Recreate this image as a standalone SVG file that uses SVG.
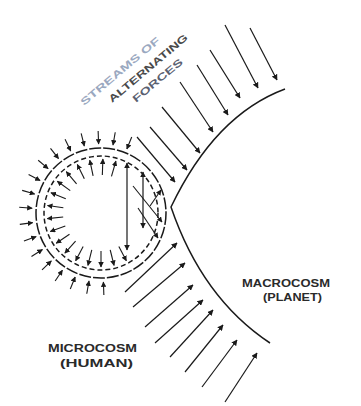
<svg xmlns="http://www.w3.org/2000/svg" width="361" height="406" viewBox="0 0 361 406">
<defs>
<marker id="ah" viewBox="0 0 10 10" refX="9" refY="5" markerWidth="5" markerHeight="5" orient="auto-start-reverse">
<path d="M0,0 L10,5 L0,10 z" fill="#1a1a1a"/>
</marker>
</defs>
<style>
.ar{stroke:#1a1a1a;stroke-width:1.2;fill:none;marker-end:url(#ah)}
.ard{stroke:#1a1a1a;stroke-width:1.2;fill:none;marker-end:url(#ah);marker-start:url(#ah)}
.sm{stroke:#1a1a1a;stroke-width:1.1;fill:none;marker-end:url(#ah)}
.ring{stroke:#1a1a1a;stroke-width:1.5;fill:none}
.lbl{font-family:"Liberation Sans",Arial,sans-serif;font-size:10px;font-weight:bold;fill:#2a2a2a}
.rot{font-family:"Liberation Sans",Arial,sans-serif;font-size:10px;font-weight:bold}
</style>
<rect width="361" height="406" fill="#ffffff"/>

<g id="macrocosm">
<path class="ring" d="M285,89 Q215,115 171,207 Q202,298 270,343"/>
<text class="lbl" x="242" y="287" textLength="88" lengthAdjust="spacingAndGlyphs">MACROCOSM</text>
<text class="lbl" x="263" y="301" textLength="59" lengthAdjust="spacingAndGlyphs">(PLANET)</text>
</g>

<g id="microcosm">
<circle class="ring" cx="101" cy="213" r="65" stroke-dasharray="12 2"/>
<circle class="ring" cx="101" cy="213" r="57" stroke-width="1.1" stroke-dasharray="5 3"/>
<g transform="translate(101,213)">
<line class="sm" x1="82" y1="0" x2="69" y2="0" transform="rotate(88)"/>
<line class="sm" x1="82" y1="0" x2="69" y2="0" transform="rotate(100)"/>
<line class="sm" x1="82" y1="0" x2="69" y2="0" transform="rotate(112)"/>
<line class="sm" x1="82" y1="0" x2="69" y2="0" transform="rotate(124)"/>
<line class="sm" x1="82" y1="0" x2="69" y2="0" transform="rotate(136)"/>
<line class="sm" x1="82" y1="0" x2="69" y2="0" transform="rotate(148)"/>
<line class="sm" x1="82" y1="0" x2="69" y2="0" transform="rotate(160)"/>
<line class="sm" x1="82" y1="0" x2="69" y2="0" transform="rotate(172)"/>
<line class="sm" x1="82" y1="0" x2="69" y2="0" transform="rotate(184)"/>
<line class="sm" x1="82" y1="0" x2="69" y2="0" transform="rotate(196)"/>
<line class="sm" x1="82" y1="0" x2="69" y2="0" transform="rotate(208)"/>
<line class="sm" x1="82" y1="0" x2="69" y2="0" transform="rotate(220)"/>
<line class="sm" x1="82" y1="0" x2="69" y2="0" transform="rotate(232)"/>
<line class="sm" x1="82" y1="0" x2="69" y2="0" transform="rotate(244)"/>
<line class="sm" x1="82" y1="0" x2="69" y2="0" transform="rotate(256)"/>
<line class="sm" x1="82" y1="0" x2="69" y2="0" transform="rotate(268)"/>
<line class="sm" x1="82" y1="0" x2="69" y2="0" transform="rotate(280)"/>
<line class="sm" x1="82" y1="0" x2="69" y2="0" transform="rotate(292)"/>
<line class="sm" x1="38" y1="0" x2="54" y2="0" transform="rotate(62)"/>
<line class="sm" x1="38" y1="0" x2="54" y2="0" transform="rotate(76)"/>
<line class="sm" x1="38" y1="0" x2="54" y2="0" transform="rotate(90)"/>
<line class="sm" x1="38" y1="0" x2="54" y2="0" transform="rotate(104)"/>
<line class="sm" x1="38" y1="0" x2="54" y2="0" transform="rotate(118)"/>
<line class="sm" x1="38" y1="0" x2="54" y2="0" transform="rotate(132)"/>
<line class="sm" x1="38" y1="0" x2="54" y2="0" transform="rotate(146)"/>
<line class="sm" x1="38" y1="0" x2="54" y2="0" transform="rotate(160)"/>
<line class="sm" x1="38" y1="0" x2="54" y2="0" transform="rotate(174)"/>
<line class="sm" x1="38" y1="0" x2="54" y2="0" transform="rotate(188)"/>
<line class="sm" x1="38" y1="0" x2="54" y2="0" transform="rotate(202)"/>
<line class="sm" x1="38" y1="0" x2="54" y2="0" transform="rotate(216)"/>
<line class="sm" x1="38" y1="0" x2="54" y2="0" transform="rotate(230)"/>
<line class="sm" x1="38" y1="0" x2="54" y2="0" transform="rotate(244)"/>
<line class="sm" x1="38" y1="0" x2="54" y2="0" transform="rotate(258)"/>
<line class="sm" x1="38" y1="0" x2="54" y2="0" transform="rotate(272)"/>
<line class="sm" x1="38" y1="0" x2="54" y2="0" transform="rotate(286)"/>
</g>
<line class="ard" x1="127" y1="163" x2="127" y2="250"/>
<line class="ard" x1="143" y1="172" x2="143" y2="228"/>
<line class="sm" x1="133" y1="186" x2="162" y2="222"/>
<line class="sm" x1="138" y1="208" x2="158" y2="238"/>
<line class="sm" x1="150" y1="206" x2="161" y2="190"/>
<text class="lbl" x="48" y="352" textLength="89" lengthAdjust="spacingAndGlyphs">MICROCOSM</text>
<text class="lbl" x="60" y="367" textLength="73" lengthAdjust="spacingAndGlyphs">(HUMAN)</text>
</g>

<g id="forces-label">
<text class="rot" fill="#9aa8c0" transform="translate(84,106) rotate(-40)" textLength="100" lengthAdjust="spacingAndGlyphs">STREAMS OF</text>
<text class="rot" fill="#4a4a4a" transform="translate(112,103) rotate(-40)" textLength="100" lengthAdjust="spacingAndGlyphs">ALTERNATING</text>
<text class="rot" fill="#5a6070" transform="translate(136,103) rotate(-40)" textLength="62" lengthAdjust="spacingAndGlyphs">FORCES</text>
</g>

<g id="connectors">
<line class="ar" x1="250" y1="28" x2="277" y2="80"/>
<line class="ar" x1="225" y1="25" x2="258" y2="88"/>
<line class="ar" x1="210" y1="50" x2="240" y2="98"/>
<line class="ar" x1="197" y1="65" x2="228" y2="115"/>
<line class="ar" x1="180" y1="82" x2="213" y2="132"/>
<line class="ar" x1="162" y1="107" x2="200" y2="153"/>
<line class="ar" x1="150" y1="127" x2="187" y2="170"/>
<line class="ar" x1="137" y1="137" x2="175" y2="182"/>
<line class="ar" x1="125" y1="292" x2="177" y2="243"/>
<line class="ar" x1="133" y1="307" x2="185" y2="263"/>
<line class="ar" x1="145" y1="327" x2="193" y2="285"/>
<line class="ar" x1="155" y1="343" x2="203" y2="300"/>
<line class="ar" x1="170" y1="357" x2="213" y2="310"/>
<line class="ar" x1="185" y1="372" x2="223" y2="325"/>
<line class="ar" x1="202" y1="387" x2="237" y2="340"/>
<line class="ar" x1="225" y1="402" x2="257" y2="353"/>
</g>
</svg>
